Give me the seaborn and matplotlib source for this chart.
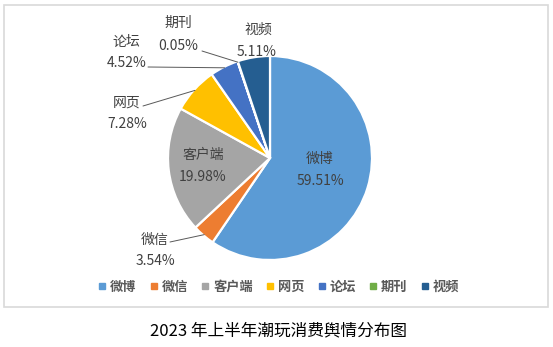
import numpy as np
import matplotlib
matplotlib.use("Agg")
import matplotlib.pyplot as plt
from matplotlib.lines import Line2D
from matplotlib.patches import Rectangle
import seaborn as sns

categories = ["微博", "微信", "客户端", "网页", "论坛", "期刊", "视频"]
shares = [59.51, 3.54, 19.98, 7.28, 4.52, 0.05, 5.11]
colors = ["#5B9BD5", "#ED7D31", "#A5A5A5", "#FFC000", "#4472C4", "#70AD47", "#255E91"]
title = "2023 年上半年潮玩消费舆情分布图"

sns.set_theme(style="white")
plt.rcParams["font.family"] = ["Noto Sans CJK SC", "DejaVu Sans"]

W, H = 553, 347
fig = plt.figure(figsize=(W / 100, H / 100), dpi=100)

# pie centre / radius in pixels
cx, cy, r = 270, 158, 102
ax = fig.add_axes([(cx - r) / W, (H - cy - r) / H, 2 * r / W, 2 * r / H])
wedges, _ = ax.pie(shares, colors=colors, startangle=90, counterclock=False,
                   radius=1, wedgeprops=dict(edgecolor="white", linewidth=1.6))
ax.set_xlim(-1, 1)
ax.set_ylim(-1, 1)
ax.set_aspect("equal")
ax.axis("off")

def to_data(px, py):
    return (px - cx) / r, (cy - py) / r

txt_color = "#404040"
fs = 10

# label positions (pixel coords of the two text lines) and optional leader start
label_layout = {
    "微博": ((320, 159), (320, 181), None),
    "客户端": ((203, 155), (203, 177), None),
    "微信": ((155, 240), (155, 261), (170, 242)),
    "网页": ((127, 103), (127, 124), (143, 106)),
    "论坛": ((126, 42), (127, 63), (148, 67)),
    "期刊": ((178, 23), (178, 46), (202, 51)),
    "视频": ((258, 30), (257, 52), None),
}

for w, name, val in zip(wedges, categories, shares):
    (nx, ny), (vx, vy), lead = label_layout[name]
    ax.text(*to_data(nx, ny), name, ha="center", va="center", fontsize=fs,
            color=txt_color, clip_on=False)
    ax.text(*to_data(vx, vy), f"{val:.2f}%", ha="center", va="center", fontsize=fs,
            color=txt_color, clip_on=False)
    if lead is not None:
        mid = np.deg2rad((w.theta1 + w.theta2) / 2)
        ex, ey = np.cos(mid), np.sin(mid)
        sx, sy = to_data(*lead)
        ax.plot([sx, ex * 0.99], [sy, ey * 0.99], color="#595959", lw=0.7,
                clip_on=False)

handles = [Line2D([0], [0], marker="s", linestyle="none", markersize=5,
                  markerfacecolor=c, markeredgecolor=c) for c in colors]
fig.legend(handles, categories, loc="center", ncol=7,
           bbox_to_anchor=(278 / W, 1 - 287 / H), frameon=False,
           prop=dict(weight="bold", size=9.5), labelcolor="#595959",
           handletextpad=0.2, columnspacing=0.9, handlelength=0.8)

fig.patches.append(Rectangle((4 / W, 1 - 307 / H), 544 / W, 302 / H,
                             transform=fig.transFigure, fill=False,
                             edgecolor="#D9D9D9", linewidth=1.2))

fig.text(278 / W, 1 - 331 / H, title, ha="center", va="center", fontsize=12,
         color="black")

fig.savefig("out.png", dpi=100)
